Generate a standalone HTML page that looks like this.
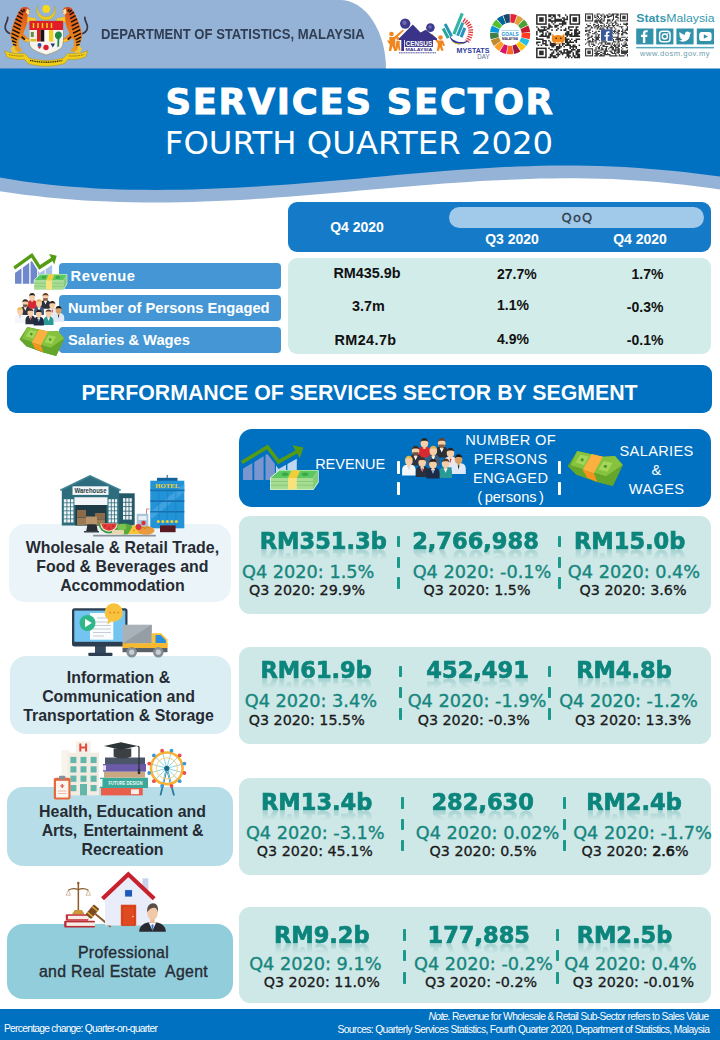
<!DOCTYPE html>
<html lang="en">
<head>
<meta charset="utf-8">
<title>Services Sector Fourth Quarter 2020</title>
<style>
*{margin:0;padding:0;box-sizing:border-box}
html,body{width:720px;height:1040px;background:#fff;overflow:hidden}
body{font-family:"Liberation Sans",sans-serif;color:#1a1a1a}
#pg{position:relative;width:720px;height:1040px;overflow:hidden;background:#fff}
.a{position:absolute}
.c{text-align:center;white-space:nowrap}
.ls{font-family:"Liberation Sans",sans-serif}
.dv{font-family:"DejaVu Sans","Liberation Sans",sans-serif}
svg{position:absolute;overflow:visible}

/* header */
#hdrL{left:0;top:0;width:386px;height:69px;background:#95b3d7;border-top-right-radius:46px 69px}
#dept{left:100.7px;top:25px;font-weight:bold;font-size:14.6px;color:#303d52;white-space:nowrap;line-height:18px;transform:scaleX(.895);transform-origin:0 50%}
#t1{left:0;width:720px;top:80px;font-weight:bold;font-size:35.5px;letter-spacing:1.7px;color:#fff;line-height:44px;-webkit-text-stroke:.9px #fff}
#t2{left:-1px;width:720px;top:123px;font-size:32.3px;color:#fff;line-height:40px}

/* summary table */
#th{left:288px;top:202px;width:423px;height:50px;background:#157bc8;border-radius:9px}
#pill{left:449px;top:207px;width:255px;height:21px;background:#a1c9ea;border-radius:11px}
.thx{color:#fff;font-weight:bold;font-size:14px;line-height:16px;white-space:nowrap}
#qoq{left:450px;width:255px;top:209.2px;font-family:"DejaVu Sans","Liberation Sans",sans-serif;font-size:13px;letter-spacing:1.2px;line-height:17px;color:#2f3e4c;-webkit-text-stroke:.3px #2f3e4c}
#tb{left:288px;top:258px;width:423px;height:96px;background:#d2ece9;border-radius:9px}
.lb{left:59px;width:222px;height:26px;background:#4497d4;border-radius:4px;color:#fff;font-weight:bold;font-size:14.7px;line-height:26px;white-space:nowrap}
.v{font-weight:bold;font-size:14px;line-height:16px;color:#111;white-space:nowrap}
.v1{left:307px;width:120px;text-align:center;font-size:14.4px}
.v2{left:497px}
.v3{right:56.6px;text-align:right}

/* banner */
#bn{left:7.3px;top:364.9px;width:704.4px;height:48.5px;background:#0070c0;border-radius:9px;color:#fff;font-weight:bold;font-size:21.3px;line-height:57px}

/* column header */
#ch{left:239px;top:429px;width:472px;height:78px;background:#0070c0;border-radius:13px}
.cht{color:#fff;font-size:14.6px;line-height:19px;white-space:nowrap;text-align:center}
.wd{width:3.3px;background:#fff;border-radius:.8px}

/* segment rows */
.sg{border-radius:16px;color:#262b33;font-weight:bold;font-size:15.9px;line-height:19px;text-align:center;white-space:nowrap}
.rw{left:239px;width:472px;background:#cee7e7;border-radius:11px}
.big{font-family:"DejaVu Sans","Liberation Sans",sans-serif;font-weight:bold;font-size:22.5px;line-height:28px;color:#0c857c;-webkit-text-stroke:.7px #0c857c;width:200px;text-align:center;white-space:nowrap;-webkit-box-reflect:below -11px linear-gradient(transparent 45%,rgba(255,255,255,.35))}
.q4{font-family:"DejaVu Sans","Liberation Sans",sans-serif;font-size:17.7px;line-height:22px;color:#15867d;-webkit-text-stroke:.35px #15867d;width:200px;text-align:center;white-space:nowrap}
.q3{font-family:"DejaVu Sans","Liberation Sans",sans-serif;font-size:14.3px;line-height:18px;color:#1a1a1a;-webkit-text-stroke:.3px #1a1a1a;width:200px;text-align:center;white-space:nowrap}
.td{width:3.2px;background:#1a9a8a;border-radius:.8px}

/* footer */
#ft{left:0;top:1009px;width:720px;height:31px;background:#0070c0}
.ftx{color:#fff;white-space:nowrap;font-size:10.3px;line-height:12px}
</style>
</head>
<body>
<div id="pg">

<!-- HEADER -->
<div id="hdrL" class="a"></div>
<svg width="720" height="210" style="left:0;top:0" viewBox="0 0 720 210">
<path fill="#95b3d7" d="M0,150 L720,150 L720,189.6 L708,187.8 L696,186.2 L684,184.7 L672,183.4 L660,182.2 L648,181.2 L636,180.4 L624,179.7 L612,179.1 L600,178.7 L588,178.5 L576,178.3 L564,178.3 L552,178.4 L540,178.6 L528,178.9 L516,179.4 L504,179.9 L492,180.5 L480,181.1 L468,181.9 L456,182.7 L444,183.6 L432,184.5 L420,185.5 L408,186.5 L396,187.5 L384,188.5 L372,189.6 L360,190.6 L348,191.7 L336,192.7 L324,193.8 L312,194.8 L300,195.7 L288,196.7 L276,197.6 L264,198.4 L252,199.2 L240,199.9 L228,200.5 L216,201.1 L204,201.5 L192,201.9 L180,202.2 L168,202.4 L156,202.5 L144,202.4 L132,202.3 L120,202.0 L108,201.6 L96,201.0 L84,200.4 L72,199.5 L60,198.6 L48,197.4 L36,196.1 L24,194.7 L12,193.1 L0,191.3 Z"/>
<path fill="#0070c0" d="M0,68.5 L720,68.5 L720,176.5 L708,174.9 L696,173.4 L684,172.0 L672,170.8 L660,169.7 L648,168.7 L636,167.8 L624,167.1 L612,166.5 L600,166.0 L588,165.7 L576,165.6 L564,165.5 L552,165.6 L540,165.8 L528,166.2 L516,166.6 L504,167.1 L492,167.8 L480,168.5 L468,169.3 L456,170.1 L444,171.1 L432,172.0 L420,173.0 L408,174.1 L396,175.1 L384,176.2 L372,177.3 L360,178.4 L348,179.4 L336,180.5 L324,181.5 L312,182.5 L300,183.5 L288,184.4 L276,185.3 L264,186.1 L252,186.8 L240,187.5 L228,188.1 L216,188.6 L204,189.1 L192,189.4 L180,189.7 L168,189.8 L156,189.9 L144,189.8 L132,189.7 L120,189.4 L108,188.9 L96,188.4 L84,187.6 L72,186.8 L60,185.7 L48,184.5 L36,183.0 L24,181.4 L12,179.5 L0,177.4 Z"/>
</svg>
<div id="dept" class="a">DEPARTMENT OF STATISTICS, MALAYSIA</div>
<div id="t1" class="a c dv">SERVICES SECTOR</div>
<div id="t2" class="a c dv">FOURTH QUARTER 2020</div>
<svg width="720" height="68" viewBox="0 0 720 68" style="left:0;top:0">
<!-- coat of arms -->
<g id="crest">
<path d="M38,5.7A9.5,9.5 0 1 0 54.400,5.7A8.600,8.600 0 1 1 38,5.700Z" fill="#f0cc1a" stroke="#b89a12" stroke-width=".3"/>
<circle cx="46.2" cy="8.9" r="3.9" fill="#f9d71e"/>
<!-- left tiger -->
<linearGradient id="tg" x1="0" y1="0" x2="0" y2="1"><stop offset="0" stop-color="#d84818"/><stop offset=".45" stop-color="#e8701c"/><stop offset="1" stop-color="#eca024"/></linearGradient>
<path d="M9.8,33.5c-2.6,-1.2 -4.8,-3.8 -4.6,-6.8 .2,-3.4 2.8,-5.8 2.6,-9.4" stroke="#3a3848" stroke-width="1.7" fill="none" stroke-linecap="round"/>
<path d="M21,8.2c2.2,-1.6 5.2,-1.7 7.2,-.4l1.8,2.2 -1,1.4 1.2,1.6 -2.2,1.6 -.8,2.2 8.2,1.4 1,2.6 -2,1 -7.2,.4 -1.4,5.2 -2.6,6 4,4.2 3.8,1.8 -.4,3 -5.4,-.6 -5,-3.6 -1.6,2.2 .4,6.4 3.2,3.4 -1.2,1.6 -4.6,.2 -3,-6 -2.2,-6.4 -.8,-4.4 1.8,-8 3,-8 3,-6.2z" fill="url(#tg)"/>
<path d="M27.5,16.8l8,1.4 1,2.6 -2,1 -7.4,.4zM14.6,44.6l.4,4.8 3,2.8 -1.2,1.4 -4,0 -2,-5zM24,40.6l5.4,1.6 .2,-2 -3.8,-1.8z" fill="#f2c832"/>
<path d="M27,8.6l2.8,1.8 -1,1.4 1.2,1.4 -2.4,1.6 -1.6,-2.4z" fill="#f6e6a0"/>
<path d="M18.6,12.2l4.4,2.6M17,15.6l5.4,3M15.6,19l6,3.2M14.4,22.6l6.6,3.4M13.4,26.2l7,3.4M12.4,29.8l7.2,3.4M11.6,33.4l7,3.4M11.4,37l5.6,2.8M12,40.8l4.4,1.8M13,44.4l3.4,1M21.5,36.6l3.4,3M23.6,9l1,2.6M20.8,10.2l2.6,2" stroke="#1c1208" stroke-width="1.5" fill="none"/>
<!-- right tiger (mirror) -->
<g transform="translate(92.6,0) scale(-1,1)">
<path d="M9.8,33.5c-2.6,-1.2 -4.8,-3.8 -4.6,-6.8 .2,-3.4 2.8,-5.8 2.6,-9.4" stroke="#3a3848" stroke-width="1.7" fill="none" stroke-linecap="round"/>
<path d="M21,8.2c2.2,-1.6 5.2,-1.7 7.2,-.4l1.8,2.2 -1,1.4 1.2,1.6 -2.2,1.6 -.8,2.2 8.2,1.4 1,2.6 -2,1 -7.2,.4 -1.4,5.2 -2.6,6 4,4.2 3.8,1.8 -.4,3 -5.4,-.6 -5,-3.6 -1.6,2.2 .4,6.4 3.2,3.4 -1.2,1.6 -4.6,.2 -3,-6 -2.2,-6.4 -.8,-4.4 1.8,-8 3,-8 3,-6.2z" fill="url(#tg)"/>
<path d="M27.5,16.8l8,1.4 1,2.6 -2,1 -7.4,.4zM14.6,44.6l.4,4.8 3,2.8 -1.2,1.4 -4,0 -2,-5zM24,40.6l5.4,1.6 .2,-2 -3.8,-1.8z" fill="#f2c832"/>
<path d="M27,8.6l2.8,1.8 -1,1.4 1.2,1.4 -2.4,1.6 -1.6,-2.4z" fill="#f6e6a0"/>
<path d="M18.6,12.2l4.4,2.6M17,15.6l5.4,3M15.6,19l6,3.2M14.4,22.6l6.6,3.4M13.4,26.2l7,3.4M12.4,29.8l7.2,3.4M11.6,33.4l7,3.4M11.4,37l5.6,2.8M12,40.8l4.4,1.8M13,44.4l3.4,1M21.5,36.6l3.4,3M23.6,9l1,2.6M20.8,10.2l2.6,2" stroke="#1c1208" stroke-width="1.5" fill="none"/>
</g>
<!-- shield -->
<path d="M29.5,21h33.5v22.5c0,6 -9,9 -16.7,11.5 -7.8,-2.5 -16.8,-5.5 -16.8,-11.5z" fill="#f4f2ea" stroke="#8a7a40" stroke-width=".5"/>
<rect x="29.5" y="21" width="33.5" height="9" fill="#e11d27"/>
<path d="M33.5,23v5M38,23v5M42.5,23v5M47,23v5M51.5,23v5" stroke="#f4d21c" stroke-width="1.5"/>
<rect x="29.5" y="30" width="7.5" height="11.5" fill="#f2efe2"/><rect x="30.8" y="32" width="3" height="5" fill="#5f8f4a"/><rect x="30.5" y="39" width="6" height="2.5" fill="#d8c22a"/>
<rect x="37" y="30" width="3.5" height="11.5" fill="#d91f26"/><rect x="40.5" y="30" width="4" height="11.5" fill="#181512"/><rect x="44.5" y="30" width="4.5" height="11.5" fill="#fbfbf7"/><rect x="49" y="30" width="4.5" height="11.5" fill="#f2cf1f"/>
<rect x="53.5" y="30" width="9.5" height="11.5" fill="#f6f4ee"/><path d="M58.5,31.5c2.5,0 3.8,2.2 3.3,4.2 -.4,1.6 -1.9,2.3 -2.5,3.6l-.2,7 -1.8,1 .2,-8c-1.4,-.6 -2.6,-2 -2.6,-3.9 0,-2.2 1.5,-3.9 3.6,-3.9z" fill="#1f8a44"/>
<path d="M35,42h22l-1,6 -10,5.5 -10,-5.5z" fill="#f7f6f2"/>
<circle cx="39.5" cy="45" r="2" fill="#2a4fa0"/><path d="M37.5,46.5h4l-2,2.5z" fill="#d8222a"/>
<circle cx="46" cy="47.5" r="2.7" fill="#dc1f2c"/>
<path d="M50.5,43.5h4.5l-2.2,4z" fill="#26356a"/>
<!-- ribbon -->
<path d="M4.5,50.5c6,3 13,3.6 20,2.8l4.5,4.8c10.5,3.2 24,3.2 34.5,0l4.5,-4.8c7,.8 14,.2 20,-2.8l-2.5,6.5c-5.5,2.2 -11.5,2.8 -17.5,2.3l-3.5,4.2c-11.5,3.6 -25,3.6 -36.5,0l-3.5,-4.2c-6,.5 -12,-.1 -17.5,-2.3z" fill="#f0cf1c" stroke="#a88a14" stroke-width=".5"/>
<path d="M30,60.3c10.5,2.6 22,2.6 32.5,0" stroke="#3a2c08" stroke-width="1.3" stroke-dasharray="1.2 .6" fill="none"/>
<path d="M9,54.6c4.5,1.3 9.5,1.7 14.5,1.3M69,55.9c5,.4 10,0 14.5,-1.3" stroke="#7a5c10" stroke-width=".9" stroke-dasharray="1 .7" fill="none"/>
</g>
<g id="census">
<g fill="#f2861e"><circle cx="391.5" cy="34" r="2.3"/><path d="M389.3,37h4.6l9,-7.5 1,1 -8.6,8.7v5.8l1.3,6h-2.3l-1.8,-5 -1.4,5h-2.3l.9,-6.5 -2.5,-3.5 .8,-1 1.3,1.2z"/><circle cx="398" cy="38.5" r="1.6"/><path d="M396.3,40.8h3.4v4.5l.8,5.2h-1.7l-.8,-3.8 -.8,3.8h-1.7z"/><circle cx="440.5" cy="37.5" r="2.3"/><path d="M438,40.5h5l2,5 -1.5,.8 -1.2,-2.5v3l1.3,4h-2.3l-1.3,-3.5 -1,3.5h-2.3l1,-4.5v-3l-6.5,-8 1.2,-1z"/></g>
<path d="M399,38.5L412.8,24.5 420.5,32.5 425.8,29.8 437,38.5v1.5H399z" fill="#3a3488"/>
<circle cx="405.2" cy="23.6" r="5.2" fill="#3d3a8c"/><circle cx="430.4" cy="27.6" r="4.3" fill="#3d3a8c"/>
<circle cx="404.5" cy="22.8" r="2.2" fill="#6a68b0"/><circle cx="430" cy="27" r="1.8" fill="#6a68b0"/>
<rect x="401.3" y="38" width="2.7" height="13" fill="#3a3488"/>
<rect x="404.8" y="39.5" width="28.2" height="7.4" fill="#3a3488"/>
<text x="418.9" y="45.9" font-family="Liberation Sans,sans-serif" font-weight="bold" font-size="7.4" fill="#fff" text-anchor="middle" textLength="26.5" lengthAdjust="spacingAndGlyphs">CENSUS</text>
<text x="418.9" y="50.6" font-family="Liberation Sans,sans-serif" font-weight="bold" font-size="4.2" fill="#3a3488" text-anchor="middle" textLength="27" lengthAdjust="spacingAndGlyphs">MALAYSIA</text>
<path d="M399,52.8h37" stroke="#3a3488" stroke-width=".9" stroke-dasharray="1.2 .500"/>
</g>
<g id="mystats">
<g transform="rotate(-28 454 34)"><rect x="445.5" y="24" width="3" height="11" fill="#28a79c"/><rect x="449.3" y="21" width="3" height="14" fill="#2398b4"/></g>
<g transform="rotate(22 456 34)"><rect x="452.5" y="12.5" width="3.2" height="22.5" fill="#35b5a4"/><rect x="456.6" y="21" width="3" height="14" fill="#2a9fb6"/><rect x="460.4" y="25" width="3" height="10" fill="#2b8fc0"/></g>
<path d="M463.5,20c7.5,4 10,13 3.5,21.5" fill="none" stroke="#e03a3e" stroke-width="4.8" stroke-dasharray="1.3 1.1"/>
<path d="M449.5,35.5c3.5,6.5 12.5,8.5 19.5,4.5 -6,7 -18,5.5 -19.5,-4.5z" fill="#2b3a9e"/>
<path d="M451,40.2c3.5,3.4 9,4 13,2.6 -4.5,2.6 -10.5,1.6 -13,-2.6z" fill="#f2c21c"/>
<text x="456.6" y="53" font-family="Liberation Sans,sans-serif" font-weight="bold" font-size="7.7" fill="#2f3b9c" textLength="32.8" lengthAdjust="spacingAndGlyphs">MYSTATS</text>
<text x="477.3" y="59.3" font-family="Liberation Sans,sans-serif" font-size="7" fill="#5c6c90" textLength="12.2" lengthAdjust="spacingAndGlyphs">DAY</text>
</g>
<g id="sdg">
<path d="M510.49,14.1A20.1,20.1 0 0 1 517,15.32L514.08,23.3A11.6,11.6 0 0 0 510.32,22.6Z" fill="#E5243B"/>
<path d="M517.72,15.6A20.1,20.1 0 0 1 523.35,19.09L517.75,25.48A11.6,11.6 0 0 0 514.5,23.47Z" fill="#DDA63A"/>
<path d="M523.92,19.61A20.1,20.1 0 0 1 527.92,24.9L520.38,28.83A11.6,11.6 0 0 0 518.08,25.78Z" fill="#4C9F38"/>
<path d="M528.26,25.59A20.1,20.1 0 0 1 530.07,31.96L521.63,32.91A11.6,11.6 0 0 0 520.58,29.23Z" fill="#C5192D"/>
<path d="M530.15,32.73A20.1,20.1 0 0 1 529.53,39.33L521.32,37.16A11.6,11.6 0 0 0 521.67,33.35Z" fill="#FF3A21"/>
<path d="M529.32,40.07A20.1,20.1 0 0 1 526.37,46L519.49,41.01A11.6,11.6 0 0 0 521.19,37.59Z" fill="#26BDE2"/>
<path d="M525.9,46.62A20.1,20.1 0 0 1 521.01,51.08L516.39,43.94A11.6,11.6 0 0 0 519.22,41.37Z" fill="#FCC30B"/>
<path d="M520.35,51.49A20.1,20.1 0 0 1 514.17,53.88L512.45,45.56A11.6,11.6 0 0 0 516.02,44.18Z" fill="#A21942"/>
<path d="M513.41,54.03A20.1,20.1 0 0 1 506.79,54.03L508.19,45.64A11.6,11.6 0 0 0 512.01,45.64Z" fill="#FD6925"/>
<path d="M506.03,53.88A20.1,20.1 0 0 1 499.85,51.49L504.18,44.18A11.6,11.6 0 0 0 507.75,45.56Z" fill="#DD1367"/>
<path d="M499.19,51.08A20.1,20.1 0 0 1 494.3,46.62L500.98,41.37A11.6,11.6 0 0 0 503.81,43.94Z" fill="#FD9D24"/>
<path d="M493.83,46A20.1,20.1 0 0 1 490.88,40.07L499.01,37.59A11.6,11.6 0 0 0 500.71,41.01Z" fill="#BF8B2E"/>
<path d="M490.67,39.33A20.1,20.1 0 0 1 490.05,32.73L498.53,33.35A11.6,11.6 0 0 0 498.88,37.16Z" fill="#3F7E44"/>
<path d="M490.13,31.96A20.1,20.1 0 0 1 491.94,25.59L499.62,29.23A11.6,11.6 0 0 0 498.57,32.91Z" fill="#0A97D9"/>
<path d="M492.28,24.9A20.1,20.1 0 0 1 496.28,19.61L502.12,25.78A11.6,11.6 0 0 0 499.82,28.83Z" fill="#56C02B"/>
<path d="M496.85,19.09A20.1,20.1 0 0 1 502.48,15.6L505.7,23.47A11.6,11.6 0 0 0 502.45,25.48Z" fill="#00689D"/>
<path d="M503.2,15.32A20.1,20.1 0 0 1 509.71,14.1L509.88,22.6A11.6,11.6 0 0 0 506.12,23.3Z" fill="#19486A"/>
<text x="510.1" y="30.8" font-family="Liberation Sans,sans-serif" font-weight="bold" font-size="2.1" fill="#2a9fd8" text-anchor="middle" textLength="17" lengthAdjust="spacingAndGlyphs">SUSTAINABLE DEVELOPMENT</text>
<text x="510.1" y="36" font-family="Liberation Sans,sans-serif" font-weight="bold" font-size="5.6" fill="#1a8fd0" text-anchor="middle" textLength="17" lengthAdjust="spacingAndGlyphs">GOALS</text>
<text x="510.1" y="39.8" font-family="Liberation Sans,sans-serif" font-weight="bold" font-size="3.2" fill="#2a2a4a" text-anchor="middle" textLength="16" lengthAdjust="spacingAndGlyphs">MALAYSIA</text>
</g>
<g id="qr1"><path d="M548.24,14.2h7.59v1.52h-7.59zM557.34,14.2h3.03v1.52h-3.03zM564.93,14.2h1.52v1.52h-1.52zM548.24,15.72h3.03v1.52h-3.03zM552.79,15.72h3.03v1.52h-3.03zM558.86,15.72h1.52v1.52h-1.52zM566.44,15.72h1.52v1.52h-1.52zM551.27,17.23h1.52v1.52h-1.52zM554.31,17.23h1.52v1.52h-1.52zM561.89,17.23h3.03v1.52h-3.03zM566.44,17.23h1.52v1.52h-1.52zM548.24,18.75h3.03v1.52h-3.03zM554.31,18.75h7.59v1.52h-7.59zM563.41,18.75h4.55v1.52h-4.55zM548.24,20.27h16.69v1.52h-16.69zM551.27,21.79h1.52v1.52h-1.52zM554.31,21.79h1.52v1.52h-1.52zM561.89,21.79h4.55v1.52h-4.55zM548.24,23.3h1.52v1.52h-1.52zM552.79,23.3h1.52v1.52h-1.52zM558.86,23.3h7.59v1.52h-7.59zM548.24,24.82h3.03v1.52h-3.03zM554.31,24.82h4.55v1.52h-4.55zM561.89,24.82h1.52v1.52h-1.52zM536.1,26.34h1.52v1.52h-1.52zM540.65,26.34h6.07v1.52h-6.07zM548.24,26.34h4.55v1.52h-4.55zM554.31,26.34h3.03v1.52h-3.03zM560.38,26.34h1.52v1.52h-1.52zM567.96,26.34h6.07v1.52h-6.07zM575.55,26.34h3.03v1.52h-3.03zM537.62,27.86h1.52v1.52h-1.52zM543.69,27.86h1.52v1.52h-1.52zM546.72,27.86h3.03v1.52h-3.03zM557.34,27.86h1.52v1.52h-1.52zM564.93,27.86h1.52v1.52h-1.52zM567.96,27.86h1.52v1.52h-1.52zM575.55,27.86h1.52v1.52h-1.52zM537.62,29.37h9.1v1.52h-9.1zM551.27,29.37h1.52v1.52h-1.52zM555.82,29.37h1.52v1.52h-1.52zM560.38,29.37h1.52v1.52h-1.52zM563.41,29.37h3.03v1.52h-3.03zM569.48,29.37h3.03v1.52h-3.03zM574.03,29.37h4.55v1.52h-4.55zM536.1,30.89h1.52v1.52h-1.52zM539.13,30.89h4.55v1.52h-4.55zM546.72,30.89h1.52v1.52h-1.52zM566.44,30.89h3.03v1.52h-3.03zM574.03,30.89h3.03v1.52h-3.03zM578.58,30.89h1.52v1.52h-1.52zM536.1,32.41h1.52v1.52h-1.52zM542.17,32.41h1.52v1.52h-1.52zM545.2,32.41h1.52v1.52h-1.52zM548.24,32.41h3.03v1.52h-3.03zM564.93,32.41h4.55v1.52h-4.55zM571,32.41h1.52v1.52h-1.52zM574.03,32.41h6.07v1.52h-6.07zM536.1,33.92h1.52v1.52h-1.52zM540.65,33.92h3.03v1.52h-3.03zM545.2,33.92h1.52v1.52h-1.52zM548.24,33.92h3.03v1.52h-3.03zM564.93,33.92h7.59v1.52h-7.59zM574.03,33.92h4.55v1.52h-4.55zM539.13,35.44h10.62v1.52h-10.62zM566.44,35.44h1.52v1.52h-1.52zM569.48,35.44h10.62v1.52h-10.62zM536.1,36.96h1.52v1.52h-1.52zM546.72,36.96h3.03v1.52h-3.03zM564.93,36.96h1.52v1.52h-1.52zM536.1,38.48h7.59v1.52h-7.59zM564.93,38.48h4.55v1.52h-4.55zM571,38.48h1.52v1.52h-1.52zM575.55,38.48h4.55v1.52h-4.55zM542.17,39.99h4.55v1.52h-4.55zM548.24,39.99h1.52v1.52h-1.52zM564.93,39.99h3.03v1.52h-3.03zM569.48,39.99h1.52v1.52h-1.52zM574.03,39.99h3.03v1.52h-3.03zM536.1,41.51h4.55v1.52h-4.55zM542.17,41.51h1.52v1.52h-1.52zM545.2,41.51h1.52v1.52h-1.52zM549.76,41.51h1.52v1.52h-1.52zM564.93,41.51h9.1v1.52h-9.1zM575.55,41.51h1.52v1.52h-1.52zM536.1,43.03h1.52v1.52h-1.52zM542.17,43.03h4.55v1.52h-4.55zM549.76,43.03h7.59v1.52h-7.59zM558.86,43.03h1.52v1.52h-1.52zM561.89,43.03h3.03v1.52h-3.03zM566.44,43.03h3.03v1.52h-3.03zM537.62,44.54h1.52v1.52h-1.52zM540.65,44.54h1.52v1.52h-1.52zM545.2,44.54h3.03v1.52h-3.03zM549.76,44.54h6.07v1.52h-6.07zM558.86,44.54h1.52v1.52h-1.52zM561.89,44.54h1.52v1.52h-1.52zM564.93,44.54h6.07v1.52h-6.07zM572.51,44.54h3.03v1.52h-3.03zM578.58,44.54h1.52v1.52h-1.52zM551.27,46.06h3.03v1.52h-3.03zM555.82,46.06h6.07v1.52h-6.07zM563.41,46.06h1.52v1.52h-1.52zM569.48,46.06h7.59v1.52h-7.59zM548.24,47.58h1.52v1.52h-1.52zM555.82,47.58h4.55v1.52h-4.55zM569.48,47.58h1.52v1.52h-1.52zM572.51,47.58h1.52v1.52h-1.52zM575.55,47.58h1.52v1.52h-1.52zM549.76,49.1h3.03v1.52h-3.03zM554.31,49.1h4.55v1.52h-4.55zM563.41,49.1h4.55v1.52h-4.55zM571,49.1h4.55v1.52h-4.55zM577.07,49.1h3.03v1.52h-3.03zM552.79,50.61h1.52v1.52h-1.52zM555.82,50.61h1.52v1.52h-1.52zM558.86,50.61h3.03v1.52h-3.03zM563.41,50.61h1.52v1.52h-1.52zM566.44,50.61h6.07v1.52h-6.07zM575.55,50.61h4.55v1.52h-4.55zM551.27,52.13h3.03v1.52h-3.03zM557.34,52.13h1.52v1.52h-1.52zM560.38,52.13h10.62v1.52h-10.62zM572.51,52.13h1.52v1.52h-1.52zM575.55,52.13h3.03v1.52h-3.03zM549.76,53.65h3.03v1.52h-3.03zM555.82,53.65h4.55v1.52h-4.55zM561.89,53.65h1.52v1.52h-1.52zM566.44,53.65h3.03v1.52h-3.03zM572.51,53.65h1.52v1.52h-1.52zM575.55,53.65h4.55v1.52h-4.55zM549.76,55.17h6.07v1.52h-6.07zM557.34,55.17h1.52v1.52h-1.52zM566.44,55.17h4.55v1.52h-4.55zM572.51,55.17h3.03v1.52h-3.03zM577.07,55.17h3.03v1.52h-3.03zM548.24,56.68h3.03v1.52h-3.03zM552.79,56.68h4.55v1.52h-4.55zM564.93,56.68h1.52v1.52h-1.52zM567.96,56.68h1.52v1.52h-1.52zM571,56.68h1.52v1.52h-1.52zM574.03,56.68h6.07v1.52h-6.07z" fill="#2b2b2b"/><rect x="536.86" y="14.96" width="9.1" height="9.1" fill="none" stroke="#2b2b2b" stroke-width="1.52"/><rect x="539.13" y="17.23" width="4.55" height="4.55" fill="#2b2b2b"/><rect x="570.24" y="14.96" width="9.1" height="9.1" fill="none" stroke="#2b2b2b" stroke-width="1.52"/><rect x="572.51" y="17.23" width="4.55" height="4.55" fill="#2b2b2b"/><rect x="536.86" y="48.34" width="9.1" height="9.1" fill="none" stroke="#2b2b2b" stroke-width="1.52"/><rect x="539.13" y="50.61" width="4.55" height="4.55" fill="#2b2b2b"/></g>
<g><path d="M552.5,33.5l2,2.5c2,-1.2 5.6,-1.2 7.6,0l2,-2.5 .8,5.5c0,3 -3,5.2 -6.6,5.2s-6.6,-2.2 -6.6,-5.2z" fill="#f08a1c"/><path d="M555.5,41.5c1.5,1.2 4.5,1.2 6,0l-.8,1.8h-4.4z" fill="#fff"/><circle cx="556.2" cy="38.3" r=".8" fill="#2a1606"/><circle cx="560.8" cy="38.3" r=".8" fill="#2a1606"/></g>
<g id="qr2"><path d="M596.62,13.4h3.49v1.16h-3.49zM602.43,13.4h1.16v1.16h-1.16zM608.24,13.4h2.32v1.16h-2.32zM611.73,13.4h6.97v1.16h-6.97zM594.3,14.56h1.16v1.16h-1.16zM596.62,14.56h1.16v1.16h-1.16zM600.11,14.56h2.32v1.16h-2.32zM603.59,14.56h1.16v1.16h-1.16zM605.92,14.56h2.32v1.16h-2.32zM610.57,14.56h3.49v1.16h-3.49zM616.38,14.56h2.32v1.16h-2.32zM594.3,15.72h1.16v1.16h-1.16zM596.62,15.72h2.32v1.16h-2.32zM601.27,15.72h1.16v1.16h-1.16zM603.59,15.72h2.32v1.16h-2.32zM607.08,15.72h4.65v1.16h-4.65zM612.89,15.72h1.16v1.16h-1.16zM615.22,15.72h2.32v1.16h-2.32zM594.3,16.89h2.32v1.16h-2.32zM597.78,16.89h1.16v1.16h-1.16zM600.11,16.89h1.16v1.16h-1.16zM603.59,16.89h2.32v1.16h-2.32zM607.08,16.89h2.32v1.16h-2.32zM612.89,16.89h1.16v1.16h-1.16zM615.22,16.89h3.49v1.16h-3.49zM596.62,18.05h1.16v1.16h-1.16zM598.95,18.05h1.16v1.16h-1.16zM601.27,18.05h1.16v1.16h-1.16zM603.59,18.05h1.16v1.16h-1.16zM612.89,18.05h1.16v1.16h-1.16zM617.54,18.05h1.16v1.16h-1.16zM595.46,19.21h1.16v1.16h-1.16zM597.78,19.21h1.16v1.16h-1.16zM600.11,19.21h2.32v1.16h-2.32zM603.59,19.21h1.16v1.16h-1.16zM607.08,19.21h3.49v1.16h-3.49zM611.73,19.21h2.32v1.16h-2.32zM616.38,19.21h1.16v1.16h-1.16zM594.3,20.37h6.97v1.16h-6.97zM602.43,20.37h2.32v1.16h-2.32zM607.08,20.37h3.49v1.16h-3.49zM611.73,20.37h1.16v1.16h-1.16zM615.22,20.37h1.16v1.16h-1.16zM617.54,20.37h1.16v1.16h-1.16zM594.3,21.54h3.49v1.16h-3.49zM598.95,21.54h3.49v1.16h-3.49zM607.08,21.54h1.16v1.16h-1.16zM610.57,21.54h1.16v1.16h-1.16zM614.05,21.54h2.32v1.16h-2.32zM589.65,22.7h1.16v1.16h-1.16zM596.62,22.7h1.16v1.16h-1.16zM600.11,22.7h3.49v1.16h-3.49zM605.92,22.7h2.32v1.16h-2.32zM609.41,22.7h1.16v1.16h-1.16zM611.73,22.7h2.32v1.16h-2.32zM615.22,22.7h2.32v1.16h-2.32zM623.35,22.7h1.16v1.16h-1.16zM625.68,22.7h2.32v1.16h-2.32zM586.16,23.86h1.16v1.16h-1.16zM593.14,23.86h2.32v1.16h-2.32zM597.78,23.86h1.16v1.16h-1.16zM603.59,23.86h1.16v1.16h-1.16zM608.24,23.86h1.16v1.16h-1.16zM611.73,23.86h1.16v1.16h-1.16zM615.22,23.86h1.16v1.16h-1.16zM617.54,23.86h1.16v1.16h-1.16zM619.86,23.86h1.16v1.16h-1.16zM623.35,23.86h4.65v1.16h-4.65zM587.32,25.02h3.49v1.16h-3.49zM593.14,25.02h1.16v1.16h-1.16zM595.46,25.02h3.49v1.16h-3.49zM600.11,25.02h2.32v1.16h-2.32zM603.59,25.02h1.16v1.16h-1.16zM605.92,25.02h1.16v1.16h-1.16zM608.24,25.02h2.32v1.16h-2.32zM611.73,25.02h3.49v1.16h-3.49zM616.38,25.02h2.32v1.16h-2.32zM625.68,25.02h1.16v1.16h-1.16zM587.32,26.18h2.32v1.16h-2.32zM590.81,26.18h1.16v1.16h-1.16zM594.3,26.18h2.32v1.16h-2.32zM597.78,26.18h2.32v1.16h-2.32zM601.27,26.18h1.16v1.16h-1.16zM603.59,26.18h2.32v1.16h-2.32zM607.08,26.18h2.32v1.16h-2.32zM612.89,26.18h1.16v1.16h-1.16zM618.7,26.18h4.65v1.16h-4.65zM626.84,26.18h1.16v1.16h-1.16zM585,27.35h2.32v1.16h-2.32zM590.81,27.35h2.32v1.16h-2.32zM594.3,27.35h1.16v1.16h-1.16zM596.62,27.35h2.32v1.16h-2.32zM600.11,27.35h1.16v1.16h-1.16zM602.43,27.35h1.16v1.16h-1.16zM605.92,27.35h2.32v1.16h-2.32zM609.41,27.35h3.49v1.16h-3.49zM614.05,27.35h1.16v1.16h-1.16zM621.03,27.35h1.16v1.16h-1.16zM626.84,27.35h1.16v1.16h-1.16zM589.65,28.51h1.16v1.16h-1.16zM596.62,28.51h1.16v1.16h-1.16zM598.95,28.51h5.81v1.16h-5.81zM607.08,28.51h1.16v1.16h-1.16zM610.57,28.51h1.16v1.16h-1.16zM615.22,28.51h1.16v1.16h-1.16zM622.19,28.51h1.16v1.16h-1.16zM625.68,28.51h2.32v1.16h-2.32zM585,29.67h5.81v1.16h-5.81zM611.73,29.67h1.16v1.16h-1.16zM614.05,29.67h1.16v1.16h-1.16zM617.54,29.67h2.32v1.16h-2.32zM622.19,29.67h1.16v1.16h-1.16zM624.51,29.67h3.49v1.16h-3.49zM585,30.83h2.32v1.16h-2.32zM588.49,30.83h1.16v1.16h-1.16zM591.97,30.83h1.16v1.16h-1.16zM595.46,30.83h1.16v1.16h-1.16zM597.78,30.83h2.32v1.16h-2.32zM612.89,30.83h3.49v1.16h-3.49zM617.54,30.83h2.32v1.16h-2.32zM621.03,30.83h2.32v1.16h-2.32zM624.51,30.83h1.16v1.16h-1.16zM588.49,31.99h2.32v1.16h-2.32zM594.3,31.99h2.32v1.16h-2.32zM611.73,31.99h1.16v1.16h-1.16zM614.05,31.99h1.16v1.16h-1.16zM616.38,31.99h2.32v1.16h-2.32zM622.19,31.99h4.65v1.16h-4.65zM586.16,33.16h2.32v1.16h-2.32zM591.97,33.16h3.49v1.16h-3.49zM596.62,33.16h1.16v1.16h-1.16zM612.89,33.16h1.16v1.16h-1.16zM615.22,33.16h1.16v1.16h-1.16zM617.54,33.16h2.32v1.16h-2.32zM621.03,33.16h2.32v1.16h-2.32zM625.68,33.16h2.32v1.16h-2.32zM585,34.32h1.16v1.16h-1.16zM587.32,34.32h2.32v1.16h-2.32zM595.46,34.32h1.16v1.16h-1.16zM597.78,34.32h2.32v1.16h-2.32zM617.54,34.32h1.16v1.16h-1.16zM621.03,34.32h2.32v1.16h-2.32zM587.32,35.48h1.16v1.16h-1.16zM590.81,35.48h2.32v1.16h-2.32zM595.46,35.48h1.16v1.16h-1.16zM597.78,35.48h1.16v1.16h-1.16zM611.73,35.48h1.16v1.16h-1.16zM617.54,35.48h1.16v1.16h-1.16zM588.49,36.64h3.49v1.16h-3.49zM594.3,36.64h5.81v1.16h-5.81zM612.89,36.64h5.81v1.16h-5.81zM621.03,36.64h4.65v1.16h-4.65zM626.84,36.64h1.16v1.16h-1.16zM587.32,37.81h2.32v1.16h-2.32zM591.97,37.81h1.16v1.16h-1.16zM595.46,37.81h3.49v1.16h-3.49zM611.73,37.81h1.16v1.16h-1.16zM616.38,37.81h4.65v1.16h-4.65zM625.68,37.81h1.16v1.16h-1.16zM585,38.97h1.16v1.16h-1.16zM587.32,38.97h1.16v1.16h-1.16zM591.97,38.97h2.32v1.16h-2.32zM595.46,38.97h3.49v1.16h-3.49zM612.89,38.97h1.16v1.16h-1.16zM615.22,38.97h5.81v1.16h-5.81zM622.19,38.97h1.16v1.16h-1.16zM624.51,38.97h3.49v1.16h-3.49zM588.49,40.13h2.32v1.16h-2.32zM591.97,40.13h1.16v1.16h-1.16zM594.3,40.13h2.32v1.16h-2.32zM598.95,40.13h1.16v1.16h-1.16zM612.89,40.13h1.16v1.16h-1.16zM617.54,40.13h1.16v1.16h-1.16zM619.86,40.13h3.49v1.16h-3.49zM625.68,40.13h2.32v1.16h-2.32zM587.32,41.29h6.97v1.16h-6.97zM595.46,41.29h1.16v1.16h-1.16zM601.27,41.29h5.81v1.16h-5.81zM612.89,41.29h3.49v1.16h-3.49zM617.54,41.29h2.32v1.16h-2.32zM624.51,41.29h1.16v1.16h-1.16zM586.16,42.45h1.16v1.16h-1.16zM588.49,42.45h1.16v1.16h-1.16zM595.46,42.45h1.16v1.16h-1.16zM598.95,42.45h3.49v1.16h-3.49zM604.76,42.45h1.16v1.16h-1.16zM607.08,42.45h3.49v1.16h-3.49zM611.73,42.45h1.16v1.16h-1.16zM617.54,42.45h1.16v1.16h-1.16zM623.35,42.45h1.16v1.16h-1.16zM625.68,42.45h1.16v1.16h-1.16zM585,43.62h1.16v1.16h-1.16zM588.49,43.62h1.16v1.16h-1.16zM590.81,43.62h3.49v1.16h-3.49zM597.78,43.62h1.16v1.16h-1.16zM601.27,43.62h1.16v1.16h-1.16zM604.76,43.62h5.81v1.16h-5.81zM611.73,43.62h1.16v1.16h-1.16zM614.05,43.62h1.16v1.16h-1.16zM616.38,43.62h1.16v1.16h-1.16zM618.7,43.62h1.16v1.16h-1.16zM621.03,43.62h1.16v1.16h-1.16zM624.51,43.62h2.32v1.16h-2.32zM588.49,44.78h1.16v1.16h-1.16zM593.14,44.78h2.32v1.16h-2.32zM600.11,44.78h1.16v1.16h-1.16zM602.43,44.78h2.32v1.16h-2.32zM610.57,44.78h1.16v1.16h-1.16zM612.89,44.78h3.49v1.16h-3.49zM617.54,44.78h2.32v1.16h-2.32zM622.19,44.78h5.81v1.16h-5.81zM589.65,45.94h1.16v1.16h-1.16zM591.97,45.94h1.16v1.16h-1.16zM596.62,45.94h1.16v1.16h-1.16zM598.95,45.94h1.16v1.16h-1.16zM602.43,45.94h5.81v1.16h-5.81zM610.57,45.94h2.32v1.16h-2.32zM614.05,45.94h2.32v1.16h-2.32zM617.54,45.94h2.32v1.16h-2.32zM622.19,45.94h3.49v1.16h-3.49zM595.46,47.1h1.16v1.16h-1.16zM597.78,47.1h2.32v1.16h-2.32zM601.27,47.1h1.16v1.16h-1.16zM605.92,47.1h1.16v1.16h-1.16zM609.41,47.1h4.65v1.16h-4.65zM615.22,47.1h3.49v1.16h-3.49zM621.03,47.1h1.16v1.16h-1.16zM625.68,47.1h2.32v1.16h-2.32zM595.46,48.26h1.16v1.16h-1.16zM597.78,48.26h2.32v1.16h-2.32zM601.27,48.26h2.32v1.16h-2.32zM604.76,48.26h2.32v1.16h-2.32zM608.24,48.26h1.16v1.16h-1.16zM611.73,48.26h2.32v1.16h-2.32zM615.22,48.26h1.16v1.16h-1.16zM617.54,48.26h2.32v1.16h-2.32zM622.19,48.26h1.16v1.16h-1.16zM594.3,49.43h2.32v1.16h-2.32zM600.11,49.43h3.49v1.16h-3.49zM604.76,49.43h2.32v1.16h-2.32zM611.73,49.43h8.14v1.16h-8.14zM621.03,49.43h1.16v1.16h-1.16zM626.84,49.43h1.16v1.16h-1.16zM594.3,50.59h1.16v1.16h-1.16zM596.62,50.59h3.49v1.16h-3.49zM603.59,50.59h4.65v1.16h-4.65zM609.41,50.59h2.32v1.16h-2.32zM614.05,50.59h2.32v1.16h-2.32zM617.54,50.59h2.32v1.16h-2.32zM621.03,50.59h6.97v1.16h-6.97zM595.46,51.75h2.32v1.16h-2.32zM600.11,51.75h2.32v1.16h-2.32zM603.59,51.75h2.32v1.16h-2.32zM610.57,51.75h2.32v1.16h-2.32zM614.05,51.75h1.16v1.16h-1.16zM616.38,51.75h3.49v1.16h-3.49zM621.03,51.75h6.97v1.16h-6.97zM594.3,52.91h5.81v1.16h-5.81zM602.43,52.91h3.49v1.16h-3.49zM607.08,52.91h1.16v1.16h-1.16zM611.73,52.91h4.65v1.16h-4.65zM617.54,52.91h1.16v1.16h-1.16zM621.03,52.91h5.81v1.16h-5.81zM595.46,54.08h3.49v1.16h-3.49zM600.11,54.08h2.32v1.16h-2.32zM603.59,54.08h6.97v1.16h-6.97zM615.22,54.08h1.16v1.16h-1.16zM618.7,54.08h1.16v1.16h-1.16zM624.51,54.08h1.16v1.16h-1.16zM626.84,54.08h1.16v1.16h-1.16zM594.3,55.24h3.49v1.16h-3.49zM598.95,55.24h5.81v1.16h-5.81zM609.41,55.24h8.14v1.16h-8.14zM618.7,55.24h5.81v1.16h-5.81zM626.84,55.24h1.16v1.16h-1.16z" fill="#3a3a3a"/><rect x="585.58" y="13.98" width="6.97" height="6.97" fill="none" stroke="#3a3a3a" stroke-width="1.16"/><rect x="587.32" y="15.72" width="3.49" height="3.49" fill="#3a3a3a"/><rect x="620.45" y="13.98" width="6.97" height="6.97" fill="none" stroke="#3a3a3a" stroke-width="1.16"/><rect x="622.19" y="15.72" width="3.49" height="3.49" fill="#3a3a3a"/><rect x="585.58" y="48.85" width="6.97" height="6.97" fill="none" stroke="#3a3a3a" stroke-width="1.16"/><rect x="587.32" y="50.59" width="3.49" height="3.49" fill="#3a3a3a"/></g>
<rect x="601" y="29.4" width="11.5" height="11.5" fill="#3b5998"/><path d="M607.7,40.9v-4.3h1.5l.25,-1.7h-1.75v-1.1c0,-.5 .15,-.85 .9,-.85h.9v-1.5c-.2,0 -.7,-.1 -1.3,-.1 -1.4,0 -2.3,.8 -2.3,2.3v1.25h-1.5v1.7h1.5v4.3z" fill="#fff"/>
<g id="statsmy">
<text x="636.2" y="22.2" font-family="Liberation Sans,sans-serif" font-size="11.2" fill="#3597ad" textLength="78.5" lengthAdjust="spacingAndGlyphs"><tspan font-weight="bold">Stats</tspan>Malaysia</text>
<rect x="636.2" y="28.5" width="17.2" height="15.9" fill="#3392ab"/>
<rect x="656.2" y="28.5" width="17.2" height="15.9" fill="#3392ab"/>
<rect x="676.4" y="28.5" width="17.2" height="15.9" fill="#3392ab"/>
<rect x="696.8" y="28.5" width="17.2" height="15.9" fill="#3392ab"/>
<path d="M645.3,43v-6h1.9l.3,-2.2h-2.2v-1.4c0,-.65 .2,-1.1 1.15,-1.1h1.2v-2c-.25,-.05 -.95,-.1 -1.75,-.1 -1.8,0 -3,1.05 -3,3v1.6h-1.9v2.2h1.9v6z" fill="#fff"/>
<rect x="659.6" y="31.3" width="10.4" height="10.4" rx="2.8" fill="none" stroke="#fff" stroke-width="1.5"/><circle cx="664.8" cy="36.5" r="2.5" fill="none" stroke="#fff" stroke-width="1.4"/><circle cx="667.9" cy="33.4" r=".75" fill="#fff"/>
<path d="M691.3,32.8c-.45,.2 -.95,.35 -1.45,.4 .5,-.3 .9,-.8 1.1,-1.4 -.5,.3 -1.05,.5 -1.6,.6 -.5,-.5 -1.15,-.8 -1.9,-.8 -1.4,0 -2.55,1.15 -2.55,2.55 0,.2 0,.4 .05,.6 -2.1,-.1 -4,-1.1 -5.25,-2.65 -.2,.4 -.35,.8 -.35,1.3 0,.9 .45,1.65 1.15,2.1 -.4,0 -.8,-.1 -1.15,-.3 0,1.25 .9,2.25 2.05,2.5 -.2,.05 -.45,.1 -.7,.1 -.15,0 -.3,0 -.5,-.05 .35,1 1.25,1.75 2.4,1.75 -.9,.7 -2,1.1 -3.15,1.1 -.2,0 -.4,0 -.6,-.05 1.1,.75 2.45,1.15 3.9,1.15 4.7,0 7.25,-3.9 7.25,-7.25v-.35c.5,-.35 .95,-.8 1.3,-1.3z" fill="#fff"/>
<rect x="699.2" y="32" width="12.4" height="9" rx="2.6" fill="#fff"/><path d="M703.8,34.2l4.2,2.3 -4.2,2.3z" fill="#3392ab"/>
<rect x="636.2" y="46.9" width="77.8" height="1.5" fill="#56a8bc"/>
<text x="640" y="55.6" font-family="Liberation Sans,sans-serif" font-size="7.6" fill="#6d9cab" textLength="69.5" lengthAdjust="spacing">www.dosm.gov.my</text>
</g>
</svg>


<!-- SUMMARY TABLE -->
<div id="th" class="a"></div>
<div id="pill" class="a"></div>
<div id="qoq" class="a c">QoQ</div>
<div class="a thx c" style="left:307px;width:100px;top:219px">Q4 2020</div>
<div class="a thx c" style="left:462px;width:100px;top:231px">Q3 2020</div>
<div class="a thx c" style="left:590px;width:100px;top:231px">Q4 2020</div>
<div id="tb" class="a"></div>
<div class="a lb" style="top:263px;padding-left:11.5px;letter-spacing:.55px">Revenue</div>
<div class="a lb" style="top:295px;padding-left:9px">Number of Persons Engaged</div>
<div class="a lb" style="top:327px;padding-left:9px">Salaries &amp; Wages</div>
<div class="a v v1" style="top:265px">RM435.9b</div>
<div class="a v v1" style="top:297.5px;left:308.5px">3.7m</div>
<div class="a v v1" style="top:332px;left:305.5px;letter-spacing:.4px">RM24.7b</div>
<div class="a v v2" style="top:266px">27.7%</div>
<div class="a v v2" style="top:297px">1.1%</div>
<div class="a v v2" style="top:330.7px">4.9%</div>
<div class="a v v3" style="top:266px">1.7%</div>
<div class="a v v3" style="top:298.5px">-0.3%</div>
<div class="a v v3" style="top:332.4px">-0.1%</div>
<svg width="90" height="115" viewBox="0 248 90 115" style="left:0;top:248px"><g transform="translate(14.2,255.3) scale(.69,.81) translate(-241.8,-446.9)"><g opacity="1"><path d="M243,468.8L252.4,463V482H243z" fill="#6f88cc"/><path d="M254.3,461.9L263.6,456.2V482H254.3z" fill="#6f88cc"/><path d="M265.5,455L267.4,453.9 274.9,464V482H265.5z" fill="#6f88cc"/><path d="M276,465.4L278.6,468.9 286,464.8V480H276z" fill="#a9c0ea"/><path d="M287.4,464L296.8,458.7V480H287.4z" fill="#a9c0ea"/></g><path d="M241.8,462.5L267.4,446.9 278.6,461.9 297.5,451.3" fill="none" stroke="#559c14" stroke-width="4.5" stroke-linejoin="miter"/><path d="M292.5,445.2L303.4,447.6 299.8,458.2z" fill="#559c14"/><path d="M279.3,470.6H318V482L313,489.4H270.8V478z" fill="#f4fff4" stroke="#f4fff4" stroke-width="1.4" stroke-linejoin="round"/><path d="M279.3,470.6H318L313,478H270.8z" fill="#5cc862"/><path d="M270.8,478H313V489.4H270.8z" fill="#a7dc92"/><path d="M313,478L318,470.6V482L313,489.4z" fill="#86cc78"/><path d="M270.8,481.5H313M270.8,485.2H313" stroke="#7ec874" stroke-width=".8"/><ellipse cx="285" cy="474.3" rx="3.4" ry="1.7" fill="#3aa848"/><ellipse cx="305" cy="474.3" rx="3.4" ry="1.7" fill="#3aa848"/><path d="M291.5,470.6H300.3L296.8,478H288z" fill="#f2cf3a"/><path d="M288,478H296.8V489.4H288z" fill="#f8e27c"/></g><g transform="translate(13.7,292.9) scale(.774,.80) translate(-400.6,-437.8)"><g><path d="M418,452.6c0,-4 2,-6 6.4,-6s6.4,2 6.4,6v5h-12.8z" fill="#d62a33"/><rect x="423.2" y="446.4" width="2.4" height="2.5" fill="#f6cfa8"/><ellipse cx="424.4" cy="443.2" rx="3.8" ry="4.2" fill="#f6cfa8"/><path d="M420.4,442.8a4,4.8 0 0 1 8,0c0,-1.5 -1.5,-2 -4,-2s-4,.500 -4,2z" fill="#2a2420"/><path d="M435.3,452.6c0,-4 2,-6 6.4,-6s6.4,2 6.4,6v5h-12.8z" fill="#2b2f38"/><path d="M441.7,447.9l2,0 -2,4.5 -2,-4.5z" fill="#fff"/><rect x="440.5" y="446.4" width="2.4" height="2.5" fill="#f6cfa8"/><ellipse cx="441.7" cy="443.2" rx="3.8" ry="4.2" fill="#f6cfa8"/><path d="M438.3,445.1a3.4,3.2 0 0 0 6.7,0l-.8,-.700h-5.1z" fill="#6b3f22" opacity=".8"/><path d="M437.7,442.8a4,4.8 0 0 1 8,0c0,-1.5 -1.5,-2 -4,-2s-4,.500 -4,2z" fill="#6b3f22"/><path d="M409.2,460.4c0,-4 2,-6 6.4,-6s6.4,2 6.4,6v5h-12.8z" fill="#2f3540"/><path d="M415.6,455.7l2,0 -2,4.5 -2,-4.5z" fill="#fff"/><rect x="414.4" y="454.2" width="2.4" height="2.5" fill="#f6cfa8"/><ellipse cx="415.6" cy="451" rx="3.8" ry="4.2" fill="#f6cfa8"/><path d="M412.2,452.9a3.4,3.2 0 0 0 6.7,0l-.8,-.700h-5.1z" fill="#4a3224" opacity=".8"/><path d="M411.6,450.6a4,4.8 0 0 1 8,0c0,-1.5 -1.5,-2 -4,-2s-4,.500 -4,2z" fill="#3a2a22"/><path d="M426.9,460.4c0,-4 2,-6 6.4,-6s6.4,2 6.4,6v5h-12.8z" fill="#3d5a78"/><path d="M433.3,455.7l2,0 -2,4.5 -2,-4.5z" fill="#fff"/><rect x="432.1" y="454.2" width="2.4" height="2.5" fill="#f6cfa8"/><ellipse cx="433.3" cy="451" rx="3.8" ry="4.2" fill="#f6cfa8"/><path d="M429.3,450.6a4,4.8 0 0 1 8,0c0,-1.5 -1.5,-2 -4,-2s-4,.500 -4,2z" fill="#e0b050"/><path d="M444.1,462.4c0,-4 2,-6 6.4,-6s6.4,2 6.4,6v5h-12.8z" fill="#e8e8ee"/><path d="M450.5,458.2l.8,1 -.8,4 -.8,-4z" fill="#d62a33"/><rect x="449.3" y="456.2" width="2.4" height="2.5" fill="#f6cfa8"/><ellipse cx="450.5" cy="453" rx="3.8" ry="4.2" fill="#f6cfa8"/><path d="M446.5,452.6a4,4.8 0 0 1 8,0c0,-1.5 -1.5,-2 -4,-2s-4,.500 -4,2z" fill="#2a2220"/><path d="M402.1,470.4c0,-4 2,-6 6.8,-6s6.8,2 6.8,6v5h-13.6z" fill="#f4f6fa"/><path d="M408.9,465.7l2,0 -2,4.5 -2,-4.5z" fill="#cfd8e6"/><rect x="407.7" y="464.2" width="2.4" height="2.5" fill="#f6cfa8"/><ellipse cx="408.9" cy="461" rx="3.8" ry="4.2" fill="#f6cfa8"/><path d="M404.9,460.6a4,4.8 0 0 1 8,0c0,-1.5 -1.5,-2 -4,-2s-4,.500 -4,2z" fill="#e8b84a"/><path d="M451.4,468.9c0,-4 2,-6 7.2,-6s7.2,2 7.2,6v5h-14.4z" fill="#dfeaf6"/><path d="M458.6,464.7l.8,1 -.8,4 -.8,-4z" fill="#1f2a3a"/><rect x="457.4" y="462.7" width="2.4" height="2.5" fill="#d9a066"/><ellipse cx="458.6" cy="459.5" rx="3.8" ry="4.2" fill="#d9a066"/><path d="M454.6,459.1a4,4.8 0 0 1 8,0c0,-1.5 -1.5,-2 -4,-2s-4,.500 -4,2z" fill="#1f1a18"/><path d="M439.2,473c0,-4 2,-6 6.4,-6s6.4,2 6.4,6v5h-12.8z" fill="#2a9a96"/><path d="M445.6,468.3l2,0 -2,4.5 -2,-4.5z" fill="#fff"/><rect x="444.4" y="466.8" width="2.4" height="2.5" fill="#f6cfa8"/><ellipse cx="445.6" cy="463.6" rx="3.8" ry="4.2" fill="#f6cfa8"/><path d="M441.6,463.2a4,4.8 0 0 1 8,0c0,-1.5 -1.5,-2 -4,-2s-4,.500 -4,2z" fill="#5a3a24"/><path d="M415.8,471.9c0,-4 2,-6 6.4,-6s6.4,2 6.4,6v5h-12.8z" fill="#2a2f3c"/><path d="M422.2,467.2l2,0 -2,4.5 -2,-4.5z" fill="#fff"/><path d="M422.2,467.7l.8,1 -.8,4 -.8,-4z" fill="#c8323c"/><rect x="421" y="465.7" width="2.4" height="2.5" fill="#f6cfa8"/><ellipse cx="422.2" cy="462.5" rx="3.8" ry="4.2" fill="#f6cfa8"/><path d="M418.2,462.1a4,4.8 0 0 1 8,0c0,-1.5 -1.5,-2 -4,-2s-4,.500 -4,2z" fill="#4a2e20"/><path d="M426.4,473.6c0,-4 2,-6 6.6,-6s6.6,2 6.6,6v5h-13.2z" fill="#1f2a44"/><path d="M433,468.9l2,0 -2,4.5 -2,-4.5z" fill="#fff"/><path d="M433,469.4l.8,1 -.8,4 -.8,-4z" fill="#3a8ad0"/><rect x="431.8" y="467.4" width="2.4" height="2.5" fill="#f6cfa8"/><ellipse cx="433" cy="464.2" rx="3.8" ry="4.2" fill="#f6cfa8"/><path d="M429,463.8a4,4.8 0 0 1 8,0c0,-1.5 -1.5,-2 -4,-2s-4,.500 -4,2z" fill="#2a201c"/></g></g><g transform="translate(19.6,326.9) scale(.813,.83) translate(-567.8,-451.1)"><path d="M567.8,466.1L577.2,451.1 602.8,456.7 615,456.1 622.8,465 612.8,486.1 596.1,481.7 576.1,474.4z" fill="#5f9f2a"/><path d="M577.2,451.1L602.8,456.7 615,456.1 622.8,465 606,476.5 570.5,465.3z" fill="#86c23e"/><path d="M570.5,465.3L606,476.5 622.8,465 612.8,486.1 596.1,481.7 576.1,474.4 567.8,466.1z" fill="#64a52c"/><path d="M575.5,462.5L580.5,454.5 589,456.5 584,465z" fill="#a4d65a"/><circle cx="582.2" cy="459.8" r="1.6" fill="#4f9428"/><path d="M598.5,469.5L603.5,461 612.5,463 607.5,471.8z" fill="#a4d65a"/><circle cx="605.4" cy="466.3" r="1.6" fill="#4f9428"/><path d="M591.7,453.9L602.8,456.7 593.9,473.3 582.8,470z" fill="#fbb040"/><path d="M582.8,470L593.9,473.3 597.2,481.7 587.2,477.8z" fill="#f7941d"/></g></svg>


<!-- BANNER -->
<div id="bn" class="a c">PERFORMANCE OF SERVICES SECTOR BY SEGMENT</div>

<!-- COLUMN HEADER -->
<div id="ch" class="a"></div>
<div class="a cht" style="left:300.2px;width:100px;top:455px;font-size:14.5px">REVENUE</div>
<div class="a cht" style="left:450.6px;width:120px;top:431px;letter-spacing:.35px">NUMBER OF<br>PERSONS<br>ENGAGED<br><span style="letter-spacing:0">(<span style="margin:0 2.4px">persons</span>)</span></div>
<div class="a cht" style="left:596.6px;width:120px;top:442px;letter-spacing:.35px">SALARIES<br>&amp;<br>WAGES</div>
<div class="a wd" style="left:396.8px;top:461px;height:12.6px"></div>
<div class="a wd" style="left:396.8px;top:481.8px;height:13px"></div>
<div class="a wd" style="left:557.8px;top:461px;height:12.6px"></div>
<div class="a wd" style="left:557.8px;top:481.8px;height:13px"></div>
<svg width="720" height="80" viewBox="0 429 720 80" style="left:0;top:429px"><g opacity="0.88"><path d="M243,468.8L252.4,463V480H243z" fill="#8d9bd0"/><path d="M254.3,461.9L263.6,456.2V480H254.3z" fill="#8d9bd0"/><path d="M265.5,455L267.4,453.9 274.9,464V480H265.5z" fill="#8d9bd0"/><path d="M276,465.4L278.6,468.9 286,464.8V480H276z" fill="#dbe3f6"/><path d="M287.4,464L296.8,458.7V480H287.4z" fill="#dbe3f6"/></g><path d="M241.8,462.5L267.4,446.9 278.6,461.9 297.5,451.3" fill="none" stroke="#559c14" stroke-width="3.6" stroke-linejoin="miter"/><path d="M292.5,445.2L303.4,447.6 299.8,458.2z" fill="#559c14"/><path d="M279.3,470.6H318V482L313,489.4H270.8V478z" fill="#e8fff0" stroke="#e8fff0" stroke-width="1.4" stroke-linejoin="round"/><path d="M279.3,470.6H318L313,478H270.8z" fill="#5cc862"/><path d="M270.8,478H313V489.4H270.8z" fill="#a7dc92"/><path d="M313,478L318,470.6V482L313,489.4z" fill="#86cc78"/><path d="M270.8,481.5H313M270.8,485.2H313" stroke="#7ec874" stroke-width=".8"/><ellipse cx="285" cy="474.3" rx="3.4" ry="1.7" fill="#3aa848"/><ellipse cx="305" cy="474.3" rx="3.4" ry="1.7" fill="#3aa848"/><path d="M291.5,470.6H300.3L296.8,478H288z" fill="#f2cf3a"/><path d="M288,478H296.8V489.4H288z" fill="#f8e27c"/><g><path d="M418,452.6c0,-4 2,-6 6.4,-6s6.4,2 6.4,6v5h-12.8z" fill="#d62a33"/><rect x="423.2" y="446.4" width="2.4" height="2.5" fill="#f6cfa8"/><ellipse cx="424.4" cy="443.2" rx="3.8" ry="4.2" fill="#f6cfa8"/><path d="M420.4,442.8a4,4.8 0 0 1 8,0c0,-1.5 -1.5,-2 -4,-2s-4,.500 -4,2z" fill="#2a2420"/><path d="M435.3,452.6c0,-4 2,-6 6.4,-6s6.4,2 6.4,6v5h-12.8z" fill="#2b2f38"/><path d="M441.7,447.9l2,0 -2,4.5 -2,-4.5z" fill="#fff"/><rect x="440.5" y="446.4" width="2.4" height="2.5" fill="#f6cfa8"/><ellipse cx="441.7" cy="443.2" rx="3.8" ry="4.2" fill="#f6cfa8"/><path d="M438.3,445.1a3.4,3.2 0 0 0 6.7,0l-.8,-.700h-5.1z" fill="#6b3f22" opacity=".8"/><path d="M437.7,442.8a4,4.8 0 0 1 8,0c0,-1.5 -1.5,-2 -4,-2s-4,.500 -4,2z" fill="#6b3f22"/><path d="M409.2,460.4c0,-4 2,-6 6.4,-6s6.4,2 6.4,6v5h-12.8z" fill="#2f3540"/><path d="M415.6,455.7l2,0 -2,4.5 -2,-4.5z" fill="#fff"/><rect x="414.4" y="454.2" width="2.4" height="2.5" fill="#f6cfa8"/><ellipse cx="415.6" cy="451" rx="3.8" ry="4.2" fill="#f6cfa8"/><path d="M412.2,452.9a3.4,3.2 0 0 0 6.7,0l-.8,-.700h-5.1z" fill="#4a3224" opacity=".8"/><path d="M411.6,450.6a4,4.8 0 0 1 8,0c0,-1.5 -1.5,-2 -4,-2s-4,.500 -4,2z" fill="#3a2a22"/><path d="M426.9,460.4c0,-4 2,-6 6.4,-6s6.4,2 6.4,6v5h-12.8z" fill="#3d5a78"/><path d="M433.3,455.7l2,0 -2,4.5 -2,-4.5z" fill="#fff"/><rect x="432.1" y="454.2" width="2.4" height="2.5" fill="#f6cfa8"/><ellipse cx="433.3" cy="451" rx="3.8" ry="4.2" fill="#f6cfa8"/><path d="M429.3,450.6a4,4.8 0 0 1 8,0c0,-1.5 -1.5,-2 -4,-2s-4,.500 -4,2z" fill="#e0b050"/><path d="M444.1,462.4c0,-4 2,-6 6.4,-6s6.4,2 6.4,6v5h-12.8z" fill="#e8e8ee"/><path d="M450.5,458.2l.8,1 -.8,4 -.8,-4z" fill="#d62a33"/><rect x="449.3" y="456.2" width="2.4" height="2.5" fill="#f6cfa8"/><ellipse cx="450.5" cy="453" rx="3.8" ry="4.2" fill="#f6cfa8"/><path d="M446.5,452.6a4,4.8 0 0 1 8,0c0,-1.5 -1.5,-2 -4,-2s-4,.500 -4,2z" fill="#2a2220"/><path d="M402.1,470.4c0,-4 2,-6 6.8,-6s6.8,2 6.8,6v5h-13.6z" fill="#f4f6fa"/><path d="M408.9,465.7l2,0 -2,4.5 -2,-4.5z" fill="#cfd8e6"/><rect x="407.7" y="464.2" width="2.4" height="2.5" fill="#f6cfa8"/><ellipse cx="408.9" cy="461" rx="3.8" ry="4.2" fill="#f6cfa8"/><path d="M404.9,460.6a4,4.8 0 0 1 8,0c0,-1.5 -1.5,-2 -4,-2s-4,.500 -4,2z" fill="#e8b84a"/><path d="M451.4,468.9c0,-4 2,-6 7.2,-6s7.2,2 7.2,6v5h-14.4z" fill="#dfeaf6"/><path d="M458.6,464.7l.8,1 -.8,4 -.8,-4z" fill="#1f2a3a"/><rect x="457.4" y="462.7" width="2.4" height="2.5" fill="#d9a066"/><ellipse cx="458.6" cy="459.5" rx="3.8" ry="4.2" fill="#d9a066"/><path d="M454.6,459.1a4,4.8 0 0 1 8,0c0,-1.5 -1.5,-2 -4,-2s-4,.500 -4,2z" fill="#1f1a18"/><path d="M439.2,473c0,-4 2,-6 6.4,-6s6.4,2 6.4,6v5h-12.8z" fill="#2a9a96"/><path d="M445.6,468.3l2,0 -2,4.5 -2,-4.5z" fill="#fff"/><rect x="444.4" y="466.8" width="2.4" height="2.5" fill="#f6cfa8"/><ellipse cx="445.6" cy="463.6" rx="3.8" ry="4.2" fill="#f6cfa8"/><path d="M441.6,463.2a4,4.8 0 0 1 8,0c0,-1.5 -1.5,-2 -4,-2s-4,.500 -4,2z" fill="#5a3a24"/><path d="M415.8,471.9c0,-4 2,-6 6.4,-6s6.4,2 6.4,6v5h-12.8z" fill="#2a2f3c"/><path d="M422.2,467.2l2,0 -2,4.5 -2,-4.5z" fill="#fff"/><path d="M422.2,467.7l.8,1 -.8,4 -.8,-4z" fill="#c8323c"/><rect x="421" y="465.7" width="2.4" height="2.5" fill="#f6cfa8"/><ellipse cx="422.2" cy="462.5" rx="3.8" ry="4.2" fill="#f6cfa8"/><path d="M418.2,462.1a4,4.8 0 0 1 8,0c0,-1.5 -1.5,-2 -4,-2s-4,.500 -4,2z" fill="#4a2e20"/><path d="M426.4,473.6c0,-4 2,-6 6.6,-6s6.6,2 6.6,6v5h-13.2z" fill="#1f2a44"/><path d="M433,468.9l2,0 -2,4.5 -2,-4.5z" fill="#fff"/><path d="M433,469.4l.8,1 -.8,4 -.8,-4z" fill="#3a8ad0"/><rect x="431.8" y="467.4" width="2.4" height="2.5" fill="#f6cfa8"/><ellipse cx="433" cy="464.2" rx="3.8" ry="4.2" fill="#f6cfa8"/><path d="M429,463.8a4,4.8 0 0 1 8,0c0,-1.5 -1.5,-2 -4,-2s-4,.500 -4,2z" fill="#2a201c"/></g><path d="M567.8,466.1L577.2,451.1 602.8,456.7 615,456.1 622.8,465 612.8,486.1 596.1,481.7 576.1,474.4z" fill="#5f9f2a"/><path d="M577.2,451.1L602.8,456.7 615,456.1 622.8,465 606,476.5 570.5,465.3z" fill="#86c23e"/><path d="M570.5,465.3L606,476.5 622.8,465 612.8,486.1 596.1,481.7 576.1,474.4 567.8,466.1z" fill="#64a52c"/><path d="M575.5,462.5L580.5,454.5 589,456.5 584,465z" fill="#a4d65a"/><circle cx="582.2" cy="459.8" r="1.6" fill="#4f9428"/><path d="M598.5,469.5L603.5,461 612.5,463 607.5,471.8z" fill="#a4d65a"/><circle cx="605.4" cy="466.3" r="1.6" fill="#4f9428"/><path d="M591.7,453.9L602.8,456.7 593.9,473.3 582.8,470z" fill="#fbb040"/><path d="M582.8,470L593.9,473.3 597.2,481.7 587.2,477.8z" fill="#f7941d"/></svg>


<!-- SEGMENT 1 -->
<div class="a sg" style="left:8.7px;top:524.2px;width:222px;height:78px;background:#ebf4f8;padding-top:14.3px;padding-left:5.4px;">Wholesale &amp; Retail Trade,<br>Food &amp; Beverages and<br>Accommodation</div>
<div class="a rw" style="top:515.8px;height:97.8px"></div>
<div class="a big" style="left:223.3px;top:526.6px">RM351.3b</div>
<div class="a q4" style="left:208.2px;top:561.1px">Q4 2020: 1.5%</div>
<div class="a q3" style="left:207.0px;top:581.1px">Q3 2020: 29.9%</div>
<div class="a big" style="left:375.5px;top:526.6px">2,766,988</div>
<div class="a q4" style="left:382.0px;top:561.1px">Q4 2020: -0.1%</div>
<div class="a q3" style="left:377.0px;top:581.1px">Q3 2020: 1.5%</div>
<div class="a big" style="left:529.7px;top:526.6px">RM15.0b</div>
<div class="a q4" style="left:534.0px;top:561.1px">Q4 2020: 0.4%</div>
<div class="a q3" style="left:533.0px;top:581.1px">Q3 2020: 3.6%</div>
<div class="a td" style="left:396.9px;top:535.9px;height:11.1px"></div>
<div class="a td" style="left:396.9px;top:556.5px;height:11.5px"></div>
<div class="a td" style="left:396.9px;top:577.2px;height:11.6px"></div>
<div class="a td" style="left:558.3px;top:535.9px;height:11.1px"></div>
<div class="a td" style="left:558.3px;top:556.5px;height:11.5px"></div>
<div class="a td" style="left:558.3px;top:577.2px;height:11.6px"></div>
<!-- SEGMENT 2 -->
<div class="a sg" style="left:9.5px;top:656px;width:221.6px;height:77.5px;background:#dbeef4;padding-top:12px;padding-right:3.6px;">Information &amp;<br>Communication and<br>Transportation &amp; Storage</div>
<div class="a rw" style="top:647px;height:96.8px"></div>
<div class="a big" style="left:216.2px;top:655.9px">RM61.9b</div>
<div class="a q4" style="left:210.9px;top:690.4px">Q4 2020: 3.4%</div>
<div class="a q3" style="left:206.7px;top:710.6px">Q3 2020: 15.5%</div>
<div class="a big" style="left:377.6px;top:655.9px">452,491</div>
<div class="a q4" style="left:377.0px;top:690.4px">Q4 2020: -1.9%</div>
<div class="a q3" style="left:373.7px;top:710.6px">Q3 2020: -0.3%</div>
<div class="a big" style="left:524.0px;top:655.9px">RM4.8b</div>
<div class="a q4" style="left:528.5px;top:690.4px">Q4 2020: -1.2%</div>
<div class="a q3" style="left:533.0px;top:710.6px">Q3 2020: 13.3%</div>
<div class="a td" style="left:398.9px;top:665.6px;height:11.2px"></div>
<div class="a td" style="left:398.9px;top:687.2px;height:11.2px"></div>
<div class="a td" style="left:398.9px;top:708.0px;height:11.6px"></div>
<div class="a td" style="left:548.0px;top:665.6px;height:11.2px"></div>
<div class="a td" style="left:548.0px;top:687.2px;height:11.2px"></div>
<div class="a td" style="left:548.0px;top:708.0px;height:11.6px"></div>
<!-- SEGMENT 3 -->
<div class="a sg" style="left:7px;top:787px;width:226px;height:79px;background:#b7dee8;padding-top:15.3px;padding-left:5px;">Health, Education and<br><span style="letter-spacing:-.2px">Arts,<span style="letter-spacing:2px"> </span>Entertainment &amp;</span><br>Recreation</div>
<div class="a rw" style="top:778px;height:96.6px"></div>
<div class="a big" style="left:216.7px;top:788.2px">RM13.4b</div>
<div class="a q4" style="left:215.3px;top:821.7px">Q4 2020: -3.1%</div>
<div class="a q3" style="left:214.9px;top:841.6px">Q3 2020: 45.1%</div>
<div class="a big" style="left:382.7px;top:788.2px">282,630</div>
<div class="a q4" style="left:387.6px;top:821.7px">Q4 2020: 0.02%</div>
<div class="a q3" style="left:383.0px;top:841.6px">Q3 2020: 0.5%</div>
<div class="a big" style="left:534.0px;top:788.2px">RM2.4b</div>
<div class="a q4" style="left:542.5px;top:821.7px">Q4 2020: -1.7%</div>
<div class="a q3" style="left:535.0px;top:841.6px">Q3 2020: <span style="-webkit-text-stroke:.7px #1a1a1a">2.6</span>%</div>
<div class="a td" style="left:400.9px;top:797.3px;height:11.5px"></div>
<div class="a td" style="left:400.9px;top:818.5px;height:11.1px"></div>
<div class="a td" style="left:400.9px;top:839.6px;height:11.6px"></div>
<div class="a td" style="left:562.9px;top:797.3px;height:11.5px"></div>
<div class="a td" style="left:562.9px;top:818.5px;height:11.1px"></div>
<div class="a td" style="left:562.9px;top:839.6px;height:11.6px"></div>
<!-- SEGMENT 4 -->
<div class="a sg" style="left:7px;top:924px;width:226px;height:74.5px;background:#92cddc;padding-top:19px;font-weight:normal;-webkit-text-stroke:.35px #262b33;letter-spacing:.3px;padding-left:7px;">Professional<br>and Real Estate&nbsp; Agent</div>
<div class="a rw" style="top:907.3px;height:95.8px"></div>
<div class="a big" style="left:221.8px;top:920.7px">RM9.2b</div>
<div class="a q4" style="left:215.3px;top:953.4px">Q4 2020: 9.1%</div>
<div class="a q3" style="left:221.7px;top:973.1px">Q3 2020: 11.0%</div>
<div class="a big" style="left:378.8px;top:920.7px">177,885</div>
<div class="a q4" style="left:383.4px;top:953.4px">Q4 2020: -0.2%</div>
<div class="a q3" style="left:381.0px;top:973.1px">Q3 2020: -0.2%</div>
<div class="a big" style="left:524.5px;top:920.7px">RM2.5b</div>
<div class="a q4" style="left:530.4px;top:953.4px">Q4 2020: 0.4%</div>
<div class="a q3" style="left:533.4px;top:973.1px">Q3 2020: -0.01%</div>
<div class="a td" style="left:402.9px;top:929.2px;height:11.6px"></div>
<div class="a td" style="left:402.9px;top:950.4px;height:11.1px"></div>
<div class="a td" style="left:402.9px;top:971.5px;height:12.0px"></div>
<div class="a td" style="left:555.6px;top:929.2px;height:11.6px"></div>
<div class="a td" style="left:555.6px;top:950.4px;height:11.1px"></div>
<div class="a td" style="left:555.6px;top:971.5px;height:12.0px"></div>

<svg width="240" height="470" viewBox="0 470 240 470" style="left:0;top:470px">
<g id="wh">
<rect x="119" y="493.3" width="15.7" height="32.2" fill="#245a68"/>
<path d="M61.8,489.4L90,475.8 119.2,489.4V525.4H61.8z" fill="#2d6d7d"/>
<path d="M60.3,490.2L90,475.8 120.7,490.2" fill="none" stroke="#3f8394" stroke-width="1.6"/>
<rect x="72.5" y="486.3" width="36" height="8.6" fill="#f4f8fa"/>
<text x="90.5" y="493.3" font-family="Liberation Sans,sans-serif" font-weight="bold" font-size="7" fill="#1f3b45" text-anchor="middle" textLength="32" lengthAdjust="spacingAndGlyphs">Warehouse</text>
<rect x="75.4" y="497.2" width="31.1" height="28.2" fill="#1f3b45"/>
<rect x="74.4" y="497.2" width="33.1" height="7.8" fill="#f2f6f8"/>
<rect x="77" y="510" width="9" height="7.5" fill="#8a6a48"/><rect x="77" y="517.8" width="9" height="7.6" fill="#9a7a55"/><rect x="95" y="513" width="10" height="6" fill="#8a6a48"/><rect x="95" y="519.3" width="10" height="6.1" fill="#9a7a55"/>
<rect x="63.8" y="499.2" width="2.7" height="3.22" fill="#eef4f6"/><rect x="67.3" y="499.2" width="2.7" height="3.22" fill="#eef4f6"/><rect x="70.8" y="499.2" width="2.7" height="3.22" fill="#eef4f6"/><rect x="63.8" y="503.22" width="2.7" height="3.22" fill="#eef4f6"/><rect x="67.3" y="503.22" width="2.7" height="3.22" fill="#eef4f6"/><rect x="70.8" y="503.22" width="2.7" height="3.22" fill="#eef4f6"/><rect x="63.8" y="507.23" width="2.7" height="3.22" fill="#eef4f6"/><rect x="67.3" y="507.23" width="2.7" height="3.22" fill="#eef4f6"/><rect x="70.8" y="507.23" width="2.7" height="3.22" fill="#eef4f6"/><rect x="63.8" y="511.25" width="2.7" height="3.22" fill="#eef4f6"/><rect x="67.3" y="511.25" width="2.7" height="3.22" fill="#eef4f6"/><rect x="70.8" y="511.25" width="2.7" height="3.22" fill="#eef4f6"/><rect x="63.8" y="515.27" width="2.7" height="3.22" fill="#eef4f6"/><rect x="67.3" y="515.27" width="2.7" height="3.22" fill="#eef4f6"/><rect x="70.8" y="515.27" width="2.7" height="3.22" fill="#eef4f6"/><rect x="63.8" y="519.28" width="2.7" height="3.22" fill="#eef4f6"/><rect x="67.3" y="519.28" width="2.7" height="3.22" fill="#eef4f6"/><rect x="70.8" y="519.28" width="2.7" height="3.22" fill="#eef4f6"/>
<rect x="108.5" y="499.2" width="2.37" height="3.22" fill="#eef4f6"/><rect x="111.67" y="499.2" width="2.37" height="3.22" fill="#eef4f6"/><rect x="114.83" y="499.2" width="2.37" height="3.22" fill="#eef4f6"/><rect x="108.5" y="503.22" width="2.37" height="3.22" fill="#eef4f6"/><rect x="111.67" y="503.22" width="2.37" height="3.22" fill="#eef4f6"/><rect x="114.83" y="503.22" width="2.37" height="3.22" fill="#eef4f6"/><rect x="108.5" y="507.23" width="2.37" height="3.22" fill="#eef4f6"/><rect x="111.67" y="507.23" width="2.37" height="3.22" fill="#eef4f6"/><rect x="114.83" y="507.23" width="2.37" height="3.22" fill="#eef4f6"/><rect x="108.5" y="511.25" width="2.37" height="3.22" fill="#eef4f6"/><rect x="111.67" y="511.25" width="2.37" height="3.22" fill="#eef4f6"/><rect x="114.83" y="511.25" width="2.37" height="3.22" fill="#eef4f6"/><rect x="108.5" y="515.27" width="2.37" height="3.22" fill="#eef4f6"/><rect x="111.67" y="515.27" width="2.37" height="3.22" fill="#eef4f6"/><rect x="114.83" y="515.27" width="2.37" height="3.22" fill="#eef4f6"/><rect x="108.5" y="519.28" width="2.37" height="3.22" fill="#eef4f6"/><rect x="111.67" y="519.28" width="2.37" height="3.22" fill="#eef4f6"/><rect x="114.83" y="519.28" width="2.37" height="3.22" fill="#eef4f6"/>
<rect x="123" y="498.2" width="2.4" height="3.64" fill="#eef4f6"/><rect x="126.2" y="498.2" width="2.4" height="3.64" fill="#eef4f6"/><rect x="129.4" y="498.2" width="2.4" height="3.64" fill="#eef4f6"/><rect x="123" y="502.64" width="2.4" height="3.64" fill="#eef4f6"/><rect x="126.2" y="502.64" width="2.4" height="3.64" fill="#eef4f6"/><rect x="129.4" y="502.64" width="2.4" height="3.64" fill="#eef4f6"/><rect x="123" y="507.08" width="2.4" height="3.64" fill="#eef4f6"/><rect x="126.2" y="507.08" width="2.4" height="3.64" fill="#eef4f6"/><rect x="129.4" y="507.08" width="2.4" height="3.64" fill="#eef4f6"/><rect x="123" y="511.52" width="2.4" height="3.64" fill="#eef4f6"/><rect x="126.2" y="511.52" width="2.4" height="3.64" fill="#eef4f6"/><rect x="129.4" y="511.52" width="2.4" height="3.64" fill="#eef4f6"/><rect x="123" y="515.96" width="2.4" height="3.64" fill="#eef4f6"/><rect x="126.2" y="515.96" width="2.4" height="3.64" fill="#eef4f6"/><rect x="129.4" y="515.96" width="2.4" height="3.64" fill="#eef4f6"/>
<rect x="86" y="516.5" width="11" height="8" fill="#b8946a"/><path d="M87.5,524.5h9l1.5,7.5h-12z" fill="#2a2f33"/><rect x="84" y="531" width="15" height="1.5" fill="#3a3f44"/>
</g>
<g id="hotel">
<rect x="136.7" y="513.8" width="11.6" height="15" fill="#a8c4d8"/><rect x="138.5" y="516" width="8" height="4" fill="#e8f0f6"/><circle cx="143.5" cy="523" r="2.2" fill="#d8323c"/><path d="M146.5,514v-5h3" stroke="#d8626a" stroke-width=".8" fill="none"/>
<rect x="166.7" y="474.9" width="1" height="4" fill="#1a5a8a"/>
<rect x="157" y="477.8" width="20.5" height="3.2" fill="#14629c"/>
<rect x="150.3" y="480.7" width="34" height="47.6" fill="#2293d6"/>
<path d="M150.3,512L184.3,484v8L150.3,520z" fill="#4aa8e4" opacity=".7"/>
<path d="M150.3,490.4h34M150.3,501.1h34M150.3,511.8h34" stroke="#1670ae" stroke-width="1.6"/>
<path d="M158.8,489v36M167.3,489v36M175.8,489v36" stroke="#1a7ec0" stroke-width=".6"/>
<text x="167.3" y="488" font-family="Liberation Serif,serif" font-weight="bold" font-size="5.8" fill="#f2d02a" text-anchor="middle" textLength="24" lengthAdjust="spacingAndGlyphs">HOTEL</text>
<circle cx="158.3" cy="521.6" r="1.5" fill="#f4d22c"/>
<circle cx="162.8" cy="521.6" r="1.5" fill="#f4d22c"/>
<circle cx="167.3" cy="521.6" r="1.5" fill="#f4d22c"/>
<circle cx="171.8" cy="521.6" r="1.5" fill="#f4d22c"/>
<circle cx="176.3" cy="521.6" r="1.5" fill="#f4d22c"/>
<rect x="160" y="525.4" width="15.6" height="6.8" fill="#5a1a24"/>
</g>
<g id="food">
<rect x="93" y="534.8" width="63" height="1.8" rx=".9" fill="#8a9098"/>
<path d="M98.5,523.5a10.5,10 0 0 0 21,0z" fill="#3f9a3a"/><path d="M100.3,523.5a8.7,8.2 0 0 0 17.4,0z" fill="#f4f0e0"/><path d="M101.3,523.5a7.7,7.2 0 0 0 15.4,0z" fill="#e43a3a"/>
<circle cx="105" cy="526" r=".6" fill="#2a1a10"/><circle cx="109" cy="528" r=".6" fill="#2a1a10"/><circle cx="113" cy="526" r=".6" fill="#2a1a10"/>
<ellipse cx="125" cy="529" rx="8" ry="5.5" fill="#58a83a"/><ellipse cx="122" cy="527" rx="4.5" ry="3.2" fill="#7cc250"/>
<path d="M128,534l6,-10 8,10z" fill="#f6c63a"/><circle cx="134" cy="530.5" r="1" fill="#e0a020"/>
<ellipse cx="146" cy="530.5" rx="8.5" ry="4.2" fill="#e89a3c"/><path d="M140,529c2,-2 4,-2 5,0M145,528.5c2,-2 4,-2 5,0" stroke="#c87820" stroke-width=".8" fill="none"/>
<circle cx="138.5" cy="527" r="3" fill="#d8323c"/><rect x="112" y="530" width="12" height="4.5" rx="1" fill="#e8d8b0"/>
</g>
<g id="ict">
<rect x="95" y="645" width="10.8" height="8.5" fill="#34495e"/><rect x="88.3" y="652.8" width="24.2" height="3.2" rx="1" fill="#2c3e50"/>
<rect x="72" y="608.3" width="55.5" height="38.2" rx="2.5" fill="#2c3e50"/>
<rect x="74.3" y="610.6" width="51" height="31.2" fill="#74c4f2"/>
<rect x="90" y="613" width="23.3" height="26.7" fill="#fafcfe"/>
<path d="M97,618h14M93,622h18M93,625.5h18M93,629h18M93,632.5h18M93,636h11" stroke="#c4ccd4" stroke-width="1"/>
<circle cx="87.5" cy="623" r="8" fill="#2eb88a"/><path d="M85,618.8l6.8,4.2 -6.8,4.2z" fill="#fff"/>
<path d="M114.2,603.2a9.5,9.3 0 1 1 -3.5,18.2l-3.2,3.4 .6,-5.2a9.5,9.3 0 0 1 6.1,-16.4z" fill="#f9c23c"/>
<circle cx="110.2" cy="612.5" r="1.1" fill="#f08a2a"/><circle cx="114.2" cy="612.5" r="1.1" fill="#f08a2a"/><circle cx="118.2" cy="612.5" r="1.1" fill="#f08a2a"/>
<rect x="122.5" y="648" width="45" height="4.2" fill="#5a6068"/>
<rect x="122.5" y="624.7" width="29.2" height="18.8" fill="#a9b1b9"/><path d="M122.5,643.5L151.7,624.7V643.5z" fill="#959da6"/>
<path d="M151.7,633.3h9.5l6.3,6.5v8.2h-15.8z" fill="#f9c23c"/>
<path d="M155.5,635h5l5.5,5.6v2.4h-10.5z" fill="#2a8fe0"/>
<rect x="122.5" y="643.3" width="45" height="4.7" fill="#f5b82e"/>
<circle cx="131.7" cy="652.2" r="5.3" fill="#868e96"/><circle cx="131.7" cy="652.2" r="2.6" fill="#c8ced4"/>
<circle cx="158.3" cy="652.2" r="5.3" fill="#868e96"/><circle cx="158.3" cy="652.2" r="2.6" fill="#c8ced4"/>
</g>
<g id="hea">
<rect x="61.5" y="750" width="8" height="45.4" fill="#f8f4ec"/>
<rect x="67.8" y="752.7" width="31.2" height="42.7" fill="#f2ece2"/>
<rect x="76" y="741.3" width="14.7" height="11.6" fill="#f6f1e8"/>
<path d="M80.3,743.5v8M86.1,743.5v8M80.3,747.5h5.8" stroke="#e2483d" stroke-width="2"/>
<rect x="70.4" y="756.9" width="6" height="6.2" fill="#63b7aa"/>
<rect x="80.5" y="756.9" width="6" height="6.2" fill="#63b7aa"/>
<rect x="90.6" y="756.9" width="6" height="6.2" fill="#63b7aa"/>
<rect x="70.4" y="766.3" width="6" height="6.2" fill="#63b7aa"/>
<rect x="80.5" y="766.3" width="6" height="6.2" fill="#63b7aa"/>
<rect x="90.6" y="766.3" width="6" height="6.2" fill="#63b7aa"/>
<rect x="70.4" y="775.6" width="6" height="6.2" fill="#63b7aa"/>
<rect x="80.5" y="775.6" width="6" height="6.2" fill="#63b7aa"/>
<rect x="90.6" y="775.6" width="6" height="6.2" fill="#63b7aa"/>
<rect x="70.4" y="785" width="6" height="6.2" fill="#63b7aa"/><rect x="90.6" y="785" width="6" height="6.2" fill="#63b7aa"/><rect x="80" y="784" width="7" height="11.4" fill="#63b7aa"/>
<rect x="53.8" y="777.7" width="16.7" height="21.9" rx="2" fill="#e8673c"/><rect x="56" y="780.8" width="12.4" height="16.7" fill="#fdf6f0"/><rect x="59" y="775.8" width="6.4" height="3.6" rx="1" fill="#8a8f98"/>
<path d="M62.2,784v4M60.2,786h4" stroke="#e2483d" stroke-width="1.2"/><path d="M58,791h8.4M58,793.5h8.4" stroke="#e8a890" stroke-width=".8"/>
<rect x="101" y="788" width="41.8" height="7.4" fill="#e8604c"/><rect x="131" y="789.3" width="8" height="4.8" fill="#fbeee6"/>
<rect x="100" y="777.7" width="48" height="10.3" fill="#3aa99a"/><rect x="100" y="779" width="2.5" height="7.7" fill="#e8f6f2"/>
<text x="125.5" y="785.3" font-family="Liberation Sans,sans-serif" font-weight="bold" font-size="4.6" fill="#f2fbf8" text-anchor="middle" textLength="34" lengthAdjust="spacingAndGlyphs">FUTURE DESIGN</text>
<rect x="104" y="771.5" width="41" height="6.2" fill="#c8a882"/>
<rect x="103" y="764" width="43" height="7.6" fill="#6a5aa8"/><rect x="103" y="765.3" width="3" height="5" fill="#e4def4"/>
<rect x="105" y="757.5" width="40" height="6.6" fill="#4a5568"/>
<path d="M113.6,748.5h17.7v8c-4,2.5 -13.7,2.5 -17.7,0z" fill="#3a4044"/>
<path d="M104,746L121,742.3 137.6,746 121,749.8z" fill="#2d3436"/>
<path d="M137.6,746l1.4,1v26.5" stroke="#2d3436" stroke-width="1.3" fill="none"/><rect x="137.8" y="769" width="2.4" height="5" fill="#2d3436"/>
<path d="M166.8,768.3L160.5,795.4M166.8,768.3L174,795.4" stroke="#2a7a9a" stroke-width="1.8"/>
<path d="M166.8,768.3L183.8,772.9M166.8,768.3L179.2,780.7M166.8,768.3L171.4,785.3M166.8,768.3L162.2,785.3M166.8,768.3L154.4,780.7M166.8,768.3L149.8,772.9M166.8,768.3L149.8,763.7M166.8,768.3L154.4,755.9M166.8,768.3L162.2,751.3M166.8,768.3L171.4,751.3M166.8,768.3L179.2,755.9M166.8,768.3L183.8,763.7" stroke="#8ad4e8" stroke-width="1"/>
<circle cx="166.8" cy="768.3" r="15.8" fill="none" stroke="#f9b233" stroke-width="2.6"/>
<circle cx="166.8" cy="768.3" r="10.6" fill="none" stroke="#fbd07a" stroke-width="1"/>
<circle cx="184.4" cy="773" r="1.9" fill="#e8504a"/>
<circle cx="179.7" cy="781.2" r="1.9" fill="#3a9ad8"/>
<circle cx="171.5" cy="785.9" r="1.9" fill="#e8504a"/>
<circle cx="162.1" cy="785.9" r="1.9" fill="#3a9ad8"/>
<circle cx="153.9" cy="781.2" r="1.9" fill="#e8504a"/>
<circle cx="149.2" cy="773" r="1.9" fill="#3a9ad8"/>
<circle cx="149.2" cy="763.6" r="1.9" fill="#e8504a"/>
<circle cx="153.9" cy="755.4" r="1.9" fill="#3a9ad8"/>
<circle cx="162.1" cy="750.7" r="1.9" fill="#e8504a"/>
<circle cx="171.5" cy="750.7" r="1.9" fill="#3a9ad8"/>
<circle cx="179.7" cy="755.4" r="1.9" fill="#e8504a"/>
<circle cx="184.4" cy="763.6" r="1.9" fill="#3a9ad8"/>
<circle cx="166.8" cy="768.3" r="2.6" fill="#1a6a8a"/>
</g>
<g id="pro">
<rect x="77.6" y="883" width="1.5" height="27" fill="#8a5a2a"/><circle cx="78.3" cy="883" r="1.2" fill="#8a5a2a"/>
<path d="M68.3,890.2c3,-1.8 7,-1.8 10,-.6c3,-1.2 7,-1.2 10,.6" stroke="#8a5a2a" stroke-width="1.2" fill="none"/>
<path d="M68.3,890.2l-2.2,5h4.4zM88.3,890.2l-2.2,5h4.4z" stroke="#a87a4a" stroke-width=".5" fill="none"/>
<path d="M74.5,910h7.6l1.2,2.6h-10zM72.5,912.6h11.6v1.8h-11.6z" fill="#c89a3a"/>
<rect x="65.8" y="914.2" width="22.5" height="6.6" rx="1" fill="#c8323c"/><rect x="68" y="915.8" width="20.3" height="3.4" fill="#f6eee6"/>
<rect x="64.2" y="920.8" width="30.8" height="6.7" rx="1" fill="#b82a34"/><rect x="66.5" y="922.4" width="28.5" height="3.5" fill="#f6eee6"/>
<g transform="rotate(-50 92.5 911.7)"><rect x="86" y="908" width="13" height="7.4" rx="1" fill="#7a4a22"/><rect x="88" y="908" width="1.6" height="7.4" fill="#d8a83a"/><rect x="95.4" y="908" width="1.6" height="7.4" fill="#d8a83a"/><rect x="91.6" y="915.4" width="2" height="20" fill="#8a5a2a"/></g>

<rect x="142.5" y="878.3" width="5.8" height="12" fill="#c8d4ea"/>
<path d="M105,897.5L128.3,876 151.5,897.5V925.6H105z" fill="#e9edf9"/>
<path d="M102.5,898.8L128.3,874.3 154.2,898.8" fill="none" stroke="#c8202c" stroke-width="4.2" stroke-linejoin="miter"/>
<rect x="124.7" y="889.7" width="7.8" height="7.3" fill="#1a5ab8" stroke="#f4f6fc" stroke-width=".8"/>
<rect x="120.8" y="904.7" width="15.4" height="21" fill="#e04a20"/><rect x="122.3" y="906.2" width="12.4" height="19.5" fill="none" stroke="#c83a14" stroke-width=".7"/><circle cx="133" cy="916.5" r=".8" fill="#f6d8c8"/>
<path d="M139.2,931.7c0,-5.5 4,-8.2 8.5,-9.2h9.6c4.5,1 8.5,3.7 8.5,9.2z" fill="#2a2a32"/>
<path d="M148.8,922.5h7.4l-3.7,8z" fill="#f4f6fa"/><path d="M152.5,924l1.2,1.5 -1.2,6 -1.2,-6z" fill="#3a7ac8"/>
<rect x="150.3" y="917.5" width="4.4" height="5.5" fill="#e8b898"/>
<ellipse cx="152.5" cy="913.3" rx="5.2" ry="6.5" fill="#f2c9a8"/>
<path d="M147.2,912.5c-.6,-5.5 2,-9.2 5.8,-9.2 3.6,0 5.6,3 5,9 -.8,-2.6 -1.6,-4 -3.4,-4.6 -2.6,.2 -5.6,1 -7.4,4.8z" fill="#5a5048"/>
</g>
</svg>

<!-- FOOTER -->
<div id="ft" class="a"></div>
<div class="a ftx" style="left:4px;top:1023px;letter-spacing:-.75px">Percentage change: Quarter-on-quarter</div>
<div class="a ftx" style="right:11.5px;top:1011.2px;text-align:right;letter-spacing:-.66px"><i>Note.</i> Revenue for Wholesale &amp; Retail Sub-Sector refers to Sales Value</div>
<div class="a ftx" style="right:10.7px;top:1024.3px;text-align:right;letter-spacing:-.64px">Sources: Quarterly Services Statistics, Fourth Quarter 2020, Department of Statistics, Malaysia</div>

</div>
</body>
</html>
